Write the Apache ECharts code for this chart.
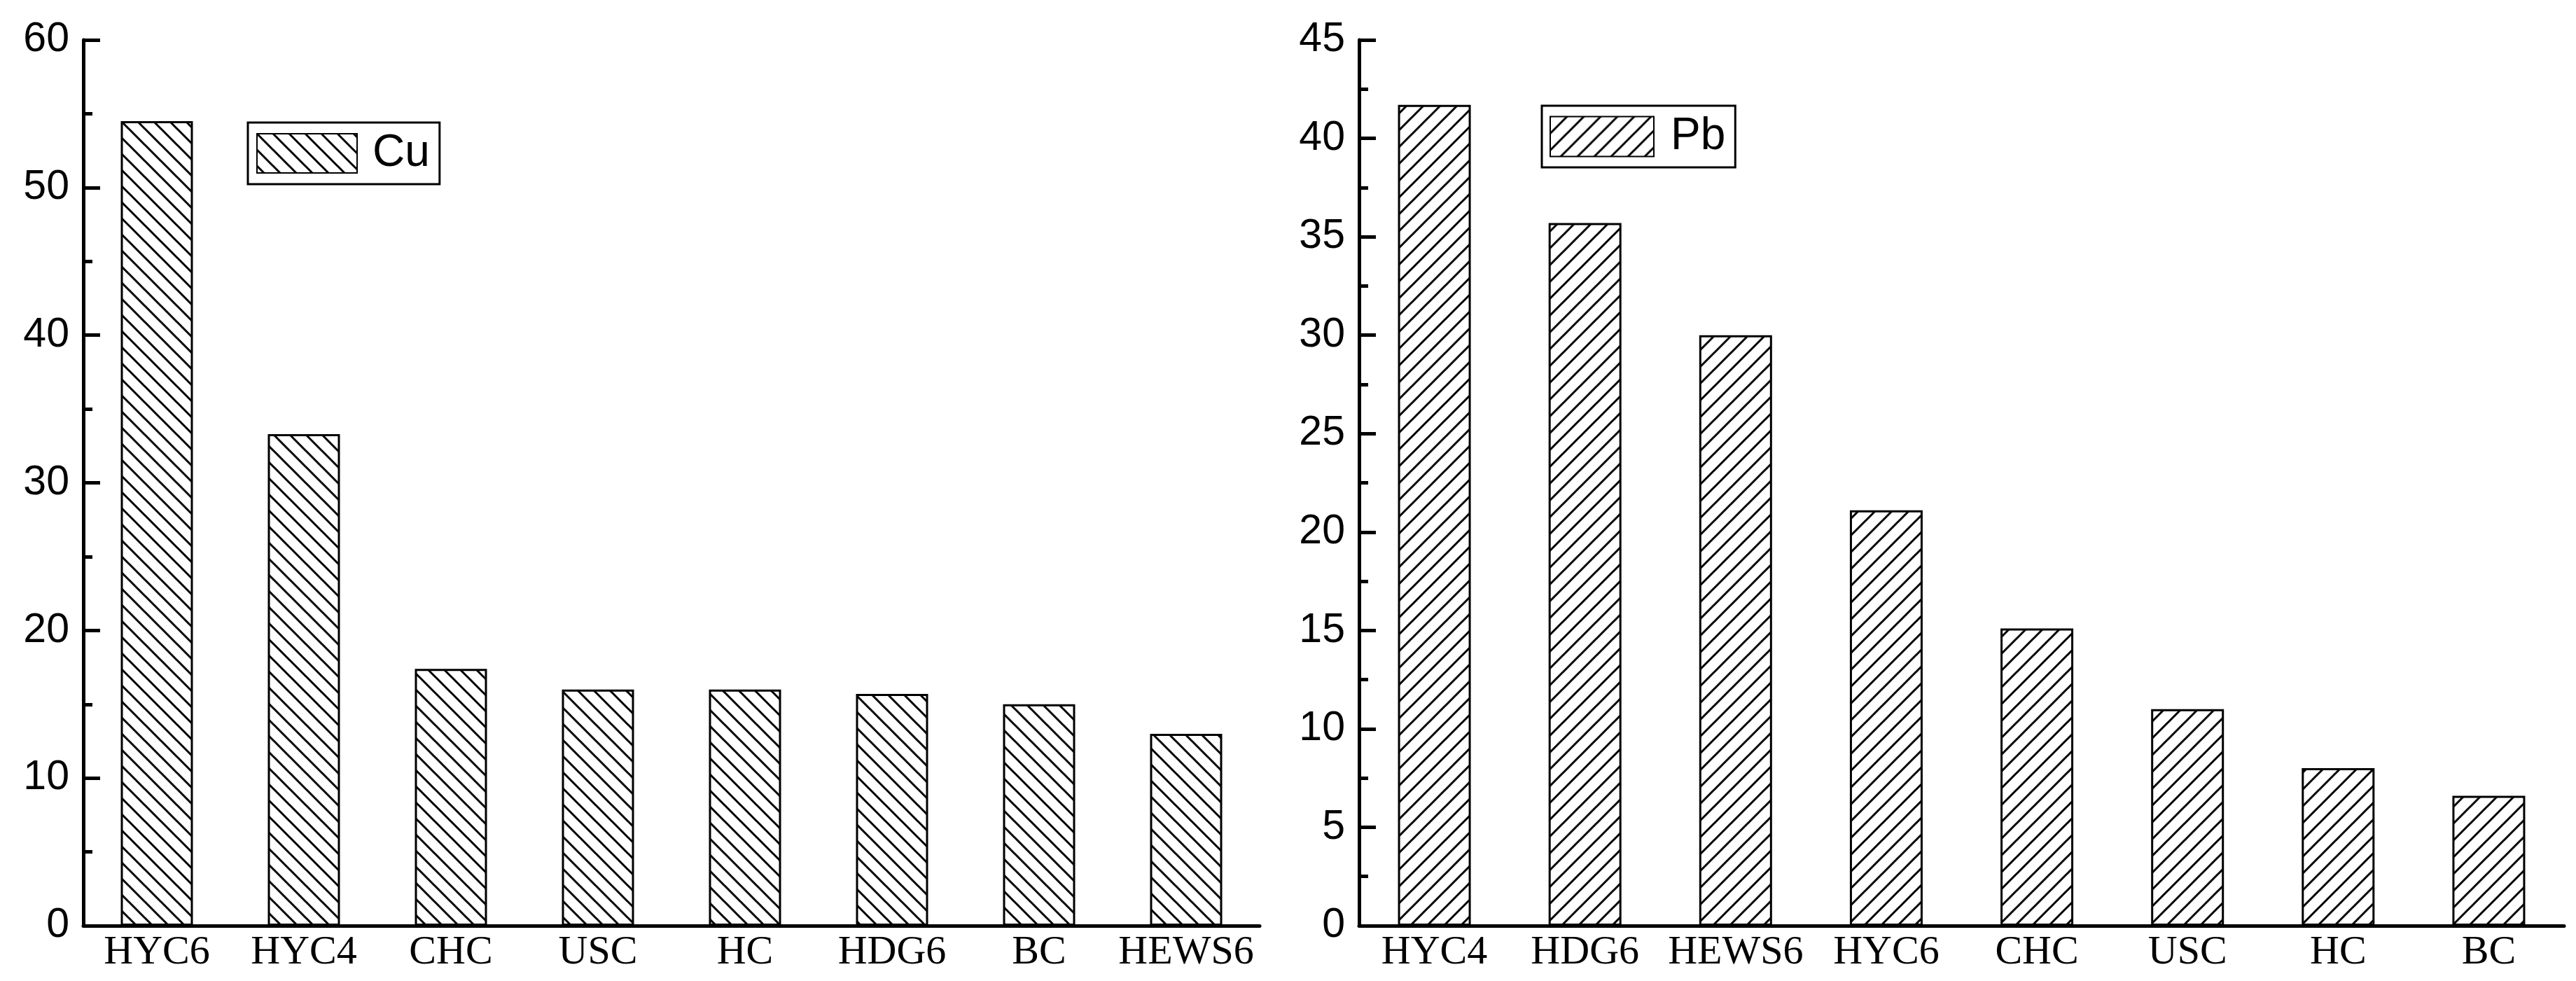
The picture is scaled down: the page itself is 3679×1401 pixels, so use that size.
<!DOCTYPE html>
<html><head><meta charset="utf-8">
<script src="https://cdn.jsdelivr.net/npm/echarts@6/dist/echarts.min.js"></script>
<style>html,body{margin:0;padding:0;background:#fff}#c{width:3679px;height:1401px}</style>
</head><body><div id="c"></div>
<script>
// ---- data ----
const cuCategories = ['HYC6', 'HYC4', 'CHC', 'USC', 'HC', 'HDG6', 'BC', 'HEWS6'];
const cuValues = [54.5, 33.3, 17.4, 16.0, 16.0, 15.7, 15.0, 13.0];
const pbCategories = ['HYC4', 'HDG6', 'HEWS6', 'HYC6', 'CHC', 'USC', 'HC', 'BC'];
const pbValues = [41.7, 35.7, 30.0, 21.1, 15.1, 11.0, 8.0, 6.6];
const cuAxis = { min: 0, max: 60, interval: 10 };
const pbAxis = { min: 0, max: 45, interval: 5 };

function hatch(dir, s, lw) {
  const c = document.createElement('canvas');
  c.width = s; c.height = s;
  const g = c.getContext('2d');
  g.fillStyle = '#fff'; g.fillRect(0, 0, s, s);
  g.strokeStyle = '#000'; g.lineWidth = lw; g.lineCap = 'butt';
  g.beginPath();
  for (const k of [-s, 0, s]) {
    if (dir === 'back') { g.moveTo(-2, k - 2); g.lineTo(s + 2, s + k + 2); }
    else { g.moveTo(-2, k + s + 2); g.lineTo(s + 2, k - 2); }
  }
  g.stroke();
  return c;
}
const cuFill = { image: hatch('back', 23, 3), repeat: 'repeat' };
const pbFill = { image: hatch('fwd', 24, 3), repeat: 'repeat' };

const yLabel = { color: '#000', fontFamily: 'Liberation Sans', fontSize: 59, margin: 20, padding: [0, 0, 10, 0] };
const xLabel = { color: '#000', fontFamily: 'Liberation Serif', fontSize: 58, margin: 10, interval: 0 };
const axisLine = { show: true, lineStyle: { color: '#000', width: 5 } };

function yAxisCfg(gridIndex, ax) {
  return {
    type: 'value', gridIndex, min: ax.min, max: ax.max, interval: ax.interval,
    axisLine, splitLine: { show: false },
    axisTick: { show: true, inside: true, length: 24, lineStyle: { color: '#000', width: 5 } },
    minorTick: { show: true, splitNumber: 2, length: 13, lineStyle: { color: '#000', width: 5 } },
    axisLabel: yLabel
  };
}
function xAxisCfg(gridIndex, cats) {
  return {
    type: 'category', gridIndex, data: cats, boundaryGap: true,
    axisLine, axisTick: { show: false }, axisLabel: xLabel, splitLine: { show: false }
  };
}
const legendText = { color: '#000', fontFamily: 'Liberation Sans', fontSize: 64 };

const option = {
  animation: false,
  backgroundColor: '#fff',
  grid: [
    { left: 119, top: 57, width: 1680, height: 1265, containLabel: false },
    { left: 1941, top: 57, width: 1721, height: 1265, containLabel: false }
  ],
  xAxis: [xAxisCfg(0, cuCategories), xAxisCfg(1, pbCategories)],
  yAxis: [yAxisCfg(0, cuAxis), yAxisCfg(1, pbAxis)],
  legend: [
    { data: ['Cu'], left: 354, top: 175, orient: 'horizontal',
      itemWidth: 143, itemHeight: 56, padding: [12, 14, 12, 12],
      borderColor: '#000', borderWidth: 3, backgroundColor: '#fff',
      textStyle: Object.assign({ padding: [0, 0, 0, 17] }, legendText), icon: 'rect' },
    { data: ['Pb'], left: 2202, top: 151, orient: 'horizontal',
      itemWidth: 148, itemHeight: 57, padding: [12, 14, 12, 11],
      borderColor: '#000', borderWidth: 3, backgroundColor: '#fff',
      textStyle: Object.assign({ padding: [0, 0, 0, 19] }, legendText), icon: 'rect' }
  ],
  series: [
    { name: 'Cu', type: 'bar', xAxisIndex: 0, yAxisIndex: 0, data: cuValues, barWidth: 103,
      itemStyle: { color: cuFill, borderColor: '#000', borderWidth: 3 } },
    { name: 'Pb', type: 'bar', xAxisIndex: 1, yAxisIndex: 1, data: pbValues, barWidth: 104,
      itemStyle: { color: pbFill, borderColor: '#000', borderWidth: 3 } }
  ]
};
const chart = echarts.init(document.getElementById('c'), null, { renderer: 'canvas', devicePixelRatio: 1 });
chart.setOption(option);
</script></body></html>
